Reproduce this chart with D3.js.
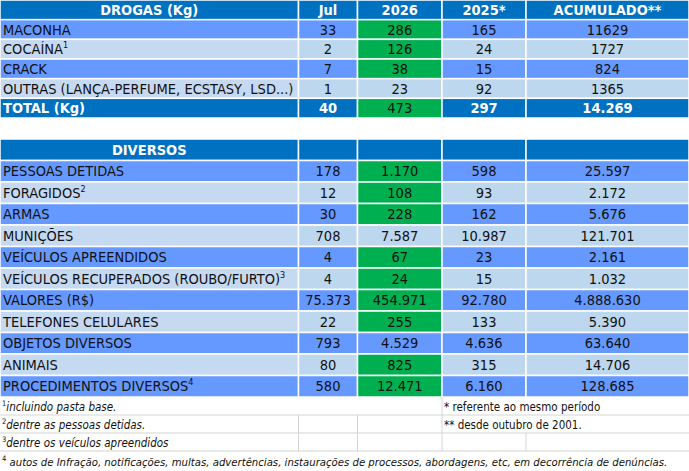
<!DOCTYPE html>
<html>
<head>
<meta charset="UTF-8" />
<script src="https://d3js.org/d3.v7.min.js"></script>
<title>Drogas e Diversos</title>
<style>
  body { margin: 0; background: #fff; }
  svg text { font-family: "Liberation Sans Narrow", "DejaVu Sans Condensed", "Arial Narrow", sans-serif; }
</style>
</head>
<body>
<div id="chart"></div>
<script>
// ---- data ----
var headerTop = ["DROGAS (Kg)", "Jul", "2026", "2025*", "ACUMULADO**"];
var drogasLabels = ["MACONHA", "COCAÍNA", "CRACK", "OUTRAS (LANÇA-PERFUME, ECSTASY, LSD...)"];
var drogasSup = ["", "1", "", ""];
var drogasJul = ["33", "2", "7", "1"];
var drogas2026 = ["286", "126", "38", "23"];
var drogas2025 = ["165", "24", "15", "92"];
var drogasAcum = ["11629", "1727", "824", "1365"];
var drogasGreen = [true, true, true, false];
var totalRow = ["TOTAL (Kg)", "40", "473", "297", "14.269"];

var headerDiv = "DIVERSOS";
var divLabels = ["PESSOAS DETIDAS", "FORAGIDOS", "ARMAS", "MUNIÇÕES", "VEÍCULOS APREENDIDOS",
  "VEÍCULOS RECUPERADOS (ROUBO/FURTO)", "VALORES (R$)", "TELEFONES CELULARES",
  "OBJETOS DIVERSOS", "ANIMAIS", "PROCEDIMENTOS DIVERSOS"];
var divSup = ["", "2", "", "", "", "3", "", "", "", "", "4"];
var divJul = ["178", "12", "30", "708", "4", "4", "75.373", "22", "793", "80", "580"];
var div2026 = ["1.170", "108", "228", "7.587", "67", "24", "454.971", "255", "4.529", "825", "12.471"];
var div2025 = ["598", "93", "162", "10.987", "23", "15", "92.780", "133", "4.636", "315", "6.160"];
var divAcum = ["25.597", "2.172", "5.676", "121.701", "2.161", "1.032", "4.888.630", "5.390", "63.640", "14.706", "128.685"];
var divGreen = [true, true, true, false, true, true, true, true, false, true, true];

var notesLeft = [["1", "incluindo pasta base."], ["2", "dentre as pessoas detidas."], ["3", "dentre os veículos apreendidos"]];
var notesRight = ["* referente ao mesmo período", "** desde outubro de 2001."];
var noteLast = ["4", " autos de Infração, notificações, multas, advertências, instaurações de processos, abordagens, etc, em decorrência de denúncias."];

// ---- layout ----
var W = 689, H = 471;
var colKeys = ["label", "jul", "y2026", "y2025", "acum"];
var colEdges = [0, 298.5, 357.5, 442, 526, 689];
var colX = d3.scaleOrdinal().domain(colKeys).range(colEdges.slice(0, 5));
var colW = d3.scaleOrdinal().domain(colKeys).range(colKeys.map(function(k, i) { return colEdges[i + 1] - colEdges[i]; }));

var DARK = "#0070C0", MID = "#6699FF", LIGHT1 = "#C5D9F1", LIGHT2 = "#BDD7EE", GREEN = "#00B050";

var svg = d3.select("#chart").append("svg")
  .attr("width", W).attr("height", H);

// rows for each table
var topRows = ["h"].concat(drogasLabels, ["total"]);
var yTop = d3.scaleBand().domain(topRows).range([0, 118]);
var divRows = ["h"].concat(divLabels);
var yDiv = d3.scaleBand().domain(divRows).range([139, 397]);

function buildRows(labels, sups, jul, a, b, acum, green) {
  return labels.map(function(l, i) {
    return { key: l, sup: sups[i], vals: [l, jul[i], a[i], b[i], acum[i]], green: green[i], odd: i % 2 === 1 };
  });
}

function cellFill(row, ci) {
  if (row.type === "header" || row.type === "total") {
    if (row.type === "total" && ci === 2) return GREEN;
    return DARK;
  }
  if (ci === 2 && row.green) return GREEN;
  if (!row.odd) return MID;
  return ci === 0 ? LIGHT1 : LIGHT2;
}

function drawTable(rows, y) {
  var g = svg.append("g");
  rows.forEach(function(row) {
    var rg = g.append("g");
    colKeys.forEach(function(k, ci) {
      rg.append("rect")
        .attr("x", colX(k)).attr("y", y(row.key))
        .attr("width", colW(k)).attr("height", y.bandwidth())
        .attr("fill", cellFill(row, ci))
        .attr("stroke", "#fff").attr("stroke-width", 1.5);

      var v = row.vals[ci];
      if (!v) return;
      var isHead = row.type === "header" || row.type === "total";
      var white = isHead && !(row.type === "total" && ci === 2);
      var centered = ci > 0 || row.type === "header";
      var t = rg.append("text")
        .attr("x", centered ? colX(k) + colW(k) / 2 : 3)
        .attr("y", y(row.key) + y.bandwidth() / 2 + 5)
        .attr("text-anchor", centered ? "middle" : "start")
        .style("font-size", "14.5px")
        .style("font-weight", white ? "bold" : "normal")
        .attr("fill", white ? "#fff" : "#111")
        .text(v);
      if (ci === 0 && row.sup) {
        t.append("tspan").attr("dy", -6).style("font-size", "9px").text(row.sup);
      }
    });
  });
}

// top table
var topTable = [{ key: "h", type: "header", vals: headerTop }]
  .concat(buildRows(drogasLabels, drogasSup, drogasJul, drogas2026, drogas2025, drogasAcum, drogasGreen))
  .concat([{ key: "total", type: "total", vals: totalRow }]);
drawTable(topTable, yTop);

// diversos table
var divTable = [{ key: "h", type: "header", vals: [headerDiv, "", "", "", ""] }]
  .concat(buildRows(divLabels, divSup, divJul, div2026, div2025, divAcum, divGreen));
drawTable(divTable, yDiv);

// footnotes
var yNote = d3.scaleBand().domain([0, 1, 2]).range([397, 451]);
var ng = svg.append("g");
var GRID = "#d4d4d4";
var NOTE_FS = 11.5;
[0, 1, 2].forEach(function(i) {
  ng.append("line")
    .attr("x1", 0).attr("x2", W)
    .attr("y1", yNote(i) + yNote.bandwidth()).attr("y2", yNote(i) + yNote.bandwidth())
    .attr("stroke", GRID).attr("stroke-width", 1);
});
// vertical grid lines in footnote rows
var vLines = [
  { k: "y2026", from: 1 }, { k: "jul", from: 1 }, { k: "y2025", from: 0 }, { k: "acum", from: 2 }
];
vLines.forEach(function(v) {
  ng.append("line")
    .attr("x1", colX(v.k)).attr("x2", colX(v.k))
    .attr("y1", yNote(v.from)).attr("y2", yNote(2) + yNote.bandwidth())
    .attr("stroke", GRID).attr("stroke-width", 1);
});
notesLeft.forEach(function(n, i) {
  var t = ng.append("text")
    .attr("x", 2).attr("y", yNote(i) + yNote.bandwidth() / 2 + 4.5)
    .style("font-size", NOTE_FS + "px").attr("fill", "#111");
  t.append("tspan").attr("dy", -5).style("font-size", "7.5px").text(n[0]);
  t.append("tspan").attr("dy", 5).style("font-style", "italic").text(n[1]);
});
notesRight.forEach(function(n, i) {
  ng.append("text")
    .attr("x", colX("y2025") + 2).attr("y", yNote(i) + yNote.bandwidth() / 2 + 4.5)
    .style("font-size", NOTE_FS + "px").attr("fill", "#111")
    .text(n);
});
var tl = ng.append("text")
  .attr("x", 2).attr("y", 466)
  .style("font-size", NOTE_FS + "px").attr("fill", "#111");
tl.append("tspan").attr("dy", -5).style("font-size", "7.5px").text(noteLast[0]);
var tlBody = tl.append("tspan").attr("dy", 5).style("font-style", "italic").text(noteLast[1]);

// shrink the long last note so it ends where the reference does
var tlW = tl.node().getComputedTextLength();
var target = 666;
if (tlW > target) {
  var fs = NOTE_FS * target / tlW;
  tl.style("font-size", fs + "px");
}
</script>
</body>
</html>
